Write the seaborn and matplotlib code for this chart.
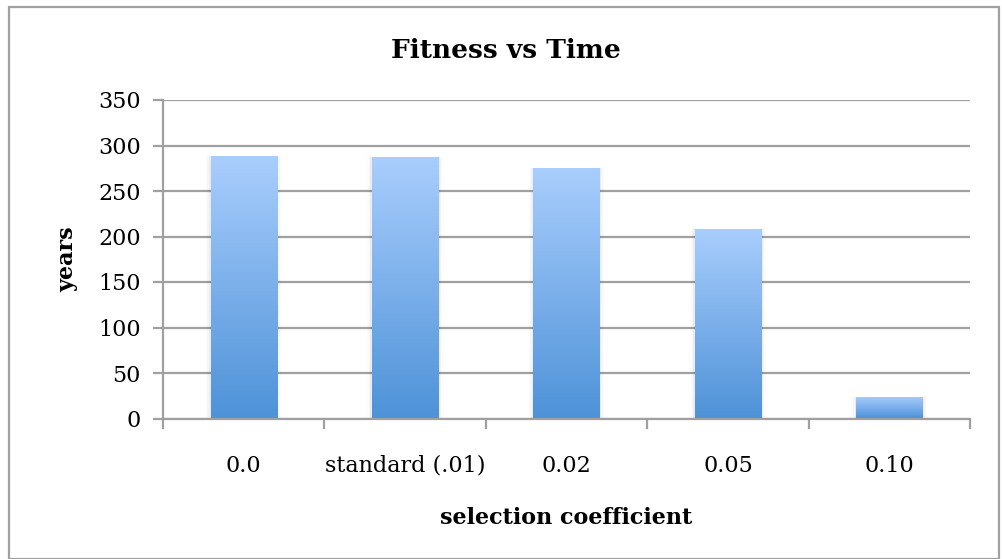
import numpy as np
import pandas as pd
import matplotlib
matplotlib.use("Agg")
import matplotlib.pyplot as plt
import seaborn as sns
from matplotlib.colors import LinearSegmentedColormap
from matplotlib.patches import Rectangle

categories = ["0.0", "standard (.01)", "0.02", "0.05", "0.10"]
years = [288, 287, 275, 208, 24]
y_ticks = [0, 50, 100, 150, 200, 250, 300, 350]

sns.set_theme(style="white")
plt.rcParams["font.family"] = ["DejaVu Serif", "Liberation Serif"]
plt.rcParams["text.color"] = "black"
plt.rcParams["axes.labelcolor"] = "black"
plt.rcParams["xtick.labelcolor"] = "black"
plt.rcParams["ytick.labelcolor"] = "black"

df = pd.DataFrame({"coef": categories, "years": years})

fig = plt.figure(figsize=(10.02, 5.59), dpi=100)
ax = fig.add_axes([163 / 1002, 1 - 418.5 / 559, (970 - 163) / 1002, (418.5 - 100) / 559])

sns.barplot(data=df, x="coef", y="years", ax=ax, width=0.41, color="#7FB0EA",
            edgecolor="none", zorder=3)

# vertical gradient fill for each bar
grad = LinearSegmentedColormap.from_list("bar", ["#4E92D8", "#A9CEFD"])
g = np.linspace(0, 1, 256).reshape(-1, 1)
for patch in ax.patches:
    x0, y0 = patch.get_x(), patch.get_y()
    w, h = patch.get_width(), patch.get_height()
    # faint side shadow
    for k, a in enumerate([0.04, 0.025, 0.012]):
        sh = Rectangle((x0 - 0.01 * (k + 1), y0), w + 0.02 * (k + 1), h,
                       facecolor="black", alpha=a, edgecolor="none", zorder=2)
        ax.add_patch(sh)
    im = ax.imshow(g, cmap=grad, aspect="auto", origin="lower",
                   extent=[x0, x0 + w, y0, y0 + h], zorder=3)
    im.set_clip_path(patch)
    patch.set_facecolor("none")

ax.set_xlim(-0.5, len(categories) - 0.5)
ax.set_ylim(0, 350)
ax.set_yticks(y_ticks)
ax.set_yticklabels([str(t) for t in y_ticks])
ax.yaxis.grid(True, color="#A0A0A0", linewidth=1.6, zorder=0)
ax.set_axisbelow(True)

for s in ["top", "right"]:
    ax.spines[s].set_visible(False)
for s in ["left", "bottom"]:
    ax.spines[s].set_color("#A0A0A0")
    ax.spines[s].set_linewidth(1.6)

# x ticks at category boundaries, labels centred
ax.set_xticks(np.arange(-0.5, len(categories), 1.0))
ax.set_xticklabels([])
ax.set_xticks(np.arange(len(categories)), minor=True)
ax.set_xticklabels(categories, minor=True)
ax.tick_params(axis="x", which="major", length=7, width=1.6, color="#A0A0A0", bottom=True)
ax.tick_params(axis="x", which="minor", length=0, pad=26, labelsize=16)
ax.tick_params(axis="y", which="major", length=7, width=1.6, color="#A0A0A0", left=True,
               labelsize=16, pad=9)

ax.set_xlabel("selection coefficient", fontsize=16, fontweight="bold", labelpad=22)
ax.set_ylabel("years", fontsize=16, fontweight="bold", labelpad=14)
fig.text(0.505, 1 - 50 / 559, "Fitness vs Time", ha="center", va="center",
         fontsize=19, fontweight="bold")

# outer chart frame
fig.patches.append(Rectangle((9 / 1002, 0), 990 / 1002, 1 - 7 / 559, transform=fig.transFigure,
                             fill=False, edgecolor="#A0A0A0", linewidth=1.6))

fig.savefig("out.png", dpi=100)
